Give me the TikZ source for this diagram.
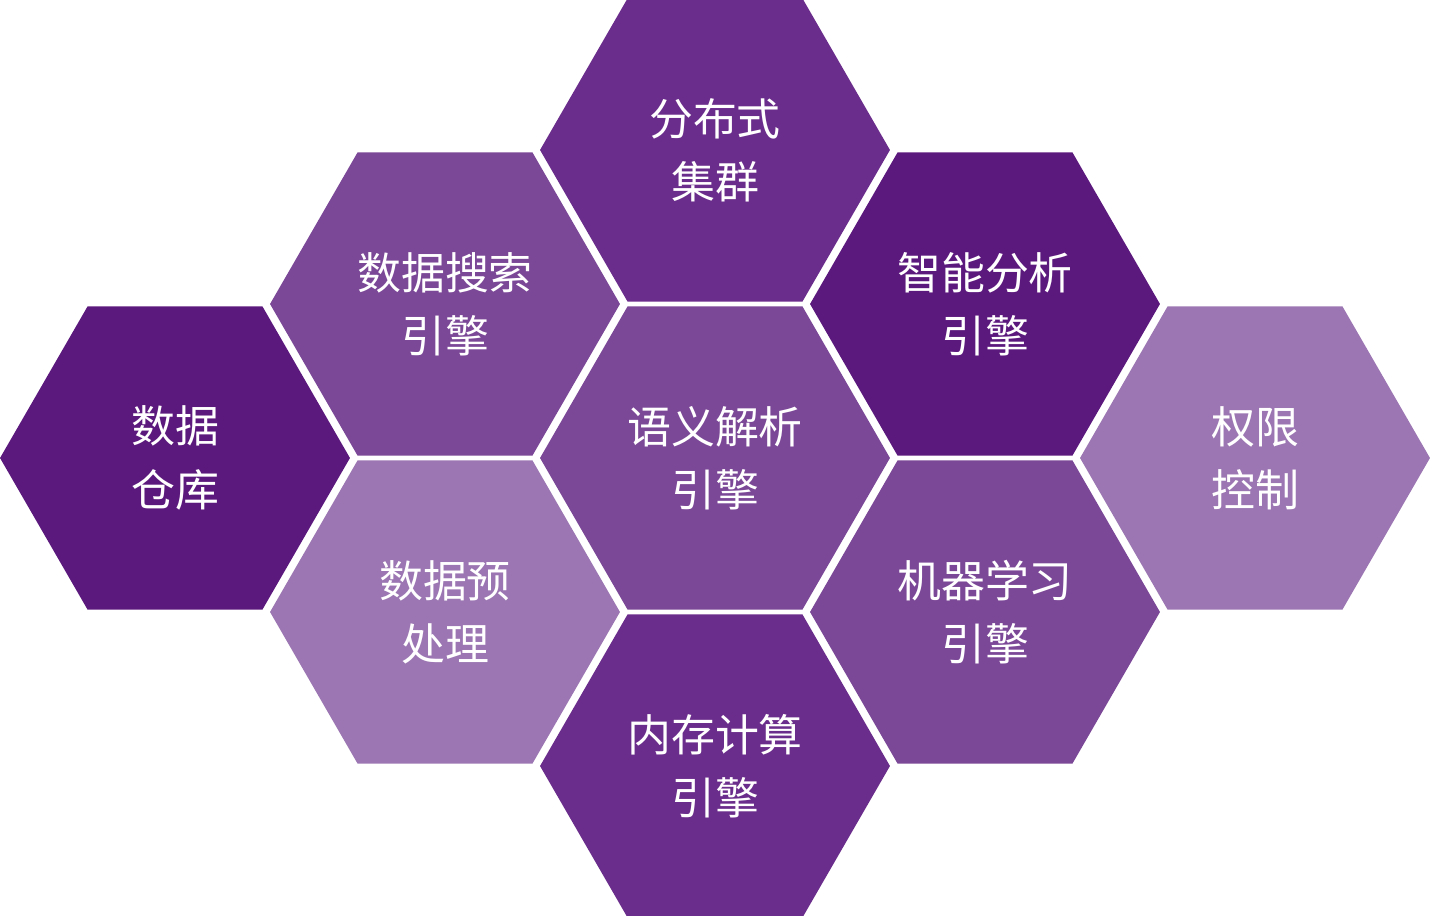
\documentclass[tikz,border=0pt]{standalone}
\usepackage{fontspec}
\newfontfamily\cjk{Noto Sans CJK SC}
\usetikzlibrary{shapes.geometric}
\definecolor{pdark}{HTML}{5C197D}
\definecolor{pmid}{HTML}{6B2D8B}
\definecolor{psoft}{HTML}{7B4797}
\definecolor{plight}{HTML}{9B76B2}
\tikzset{
  hexa/.style={regular polygon, regular polygon sides=6, minimum size=7cm,
    inner sep=0pt, fill=#1, text=white, align=center,
    font=\cjk\fontsize{25}{36}\selectfont}
}
\begin{document}
\begin{tikzpicture}[x=0.02cm, y=-0.02cm]
  \useasboundingbox (0,0) rectangle (1430,916);
  % middle column
  \node[hexa=pmid] (cluster) at (715,150) {分布式\\集群};
  \node[hexa=psoft] (parse) at (715,458) {语义解析\\引擎};
  \node[hexa=pmid] (memory) at (715,766) {内存计算\\引擎};
  % left side
  \node[hexa=psoft] (search) at (445,304) {数据搜索\\引擎};
  \node[hexa=plight] (prep) at (445,612) {数据预\\处理};
  \node[hexa=pdark] (store) at (175,458) {数据\\仓库};
  % right side
  \node[hexa=pdark] (smart) at (985,304) {智能分析\\引擎};
  \node[hexa=psoft] (learn) at (985,612) {机器学习\\引擎};
  \node[hexa=plight] (auth) at (1255,458) {权限\\控制};
\end{tikzpicture}
\end{document}
